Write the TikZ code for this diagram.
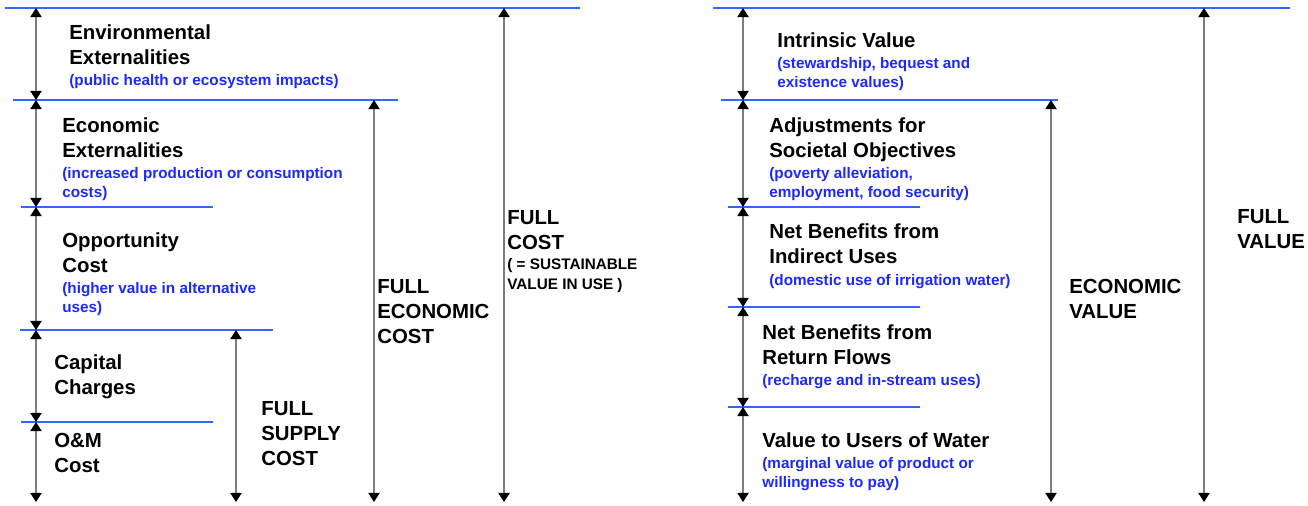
\documentclass[tikz,border=0pt]{standalone}
\usepackage{fontspec}
\setmainfont{Liberation Sans}
\usetikzlibrary{arrows.meta,positioning}
\definecolor{levelblue}{RGB}{51,102,255}
\definecolor{noteblue}{RGB}{28,40,255}
\definecolor{shaftgray}{RGB}{125,125,125}
\tikzset
{
    level/.style = {draw=levelblue, line width=1.4pt},
    span/.style  = {draw=shaftgray, line width=0.9pt, {Triangle[color=black,width=6.4pt,length=5.2pt]}-{Triangle[color=black,width=6.4pt,length=5.2pt]}},
    title/.style = {anchor=base west, align=left, inner sep=0pt, font=\fontsize{11.6}{14}\selectfont\bfseries},
    note/.style  = {anchor=base west, align=left, inner sep=0pt, text=noteblue, font=\fontsize{8.7}{10.8}\selectfont\bfseries},
    aside/.style = {anchor=base west, align=left, inner sep=0pt, font=\fontsize{8.7}{11.2}\selectfont\bfseries}
}
\newcommand\XL{36}
\newcommand\XR{743}

\begin{document}
\begin{tikzpicture}[x=0.02cm, y=-0.02cm]
\useasboundingbox (0,0) rectangle (1308,505);

%% levels, cost side
\coordinate (a0) at (\XL,8);
\coordinate (a1) at (\XL,100);
\coordinate (a2) at (\XL,207);
\coordinate (a3) at (\XL,330);
\coordinate (a4) at (\XL,422);
\coordinate (a5) at (\XL,502);
\coordinate (sup0)  at (236,330);
\coordinate (sup1)  at (236,502);
\coordinate (eco0)  at (374,100);
\coordinate (eco1)  at (374,502);
\coordinate (full0) at (504,8);
\coordinate (full1) at (504,502);

\draw[level] (5,8)    -- (580,8);
\draw[level] (13,100) -- (398,100);
\draw[level] (21,207) -- (213,207);
\draw[level] (20,330) -- (273,330);
\draw[level] (21,422) -- (213,422);

%% levels, value side
\coordinate (b0) at (\XR,8);
\coordinate (b1) at (\XR,100);
\coordinate (b2) at (\XR,207);
\coordinate (b3) at (\XR,307);
\coordinate (b4) at (\XR,407);
\coordinate (b5) at (\XR,502);
\coordinate (ev0) at (1051,100);
\coordinate (ev1) at (1051,502);
\coordinate (fv0) at (1204,8);
\coordinate (fv1) at (1204,502);

\draw[level] (713,8)   -- (1290,8);
\draw[level] (721,100) -- (1058,100);
\draw[level] (728,207) -- (920,207);
\draw[level] (728,307) -- (920,307);
\draw[level] (728,407) -- (920,407);

\path
(a0) edge[span] (a1)
(a1) edge[span] (a2)
(a2) edge[span] (a3)
(a3) edge[span] (a4)
(a4) edge[span] (a5)
(sup0) edge[span] (sup1)
(eco0) edge[span] (eco1)
(full0) edge[span] (full1)
(b0) edge[span] (b1)
(b1) edge[span] (b2)
(b2) edge[span] (b3)
(b3) edge[span] (b4)
(b4) edge[span] (b5)
(ev0) edge[span] (ev1)
(fv0) edge[span] (fv1);

%% cost components (placed at the baseline of the last line)
\node (envT)  [title] at (69,64)  {Environmental\\Externalities};
\node (envN)  [note]  at (69,85)  {(public health or ecosystem impacts)};
\node (ecxT)  [title] at (62,157) {Economic\\Externalities};
\node (ecxN)  [note]  at (62,197) {(increased production or consumption\\costs)};
\node (oppT)  [title] at (62,272) {Opportunity\\Cost};
\node (oppN)  [note]  at (62,312) {(higher value in alternative\\uses)};
\node (capT)  [title] at (54,394) {Capital\\Charges};
\node (omT)   [title] at (54,472) {O\&M\\Cost};
\node (supL)  [title] at (261,465) {FULL\\SUPPLY\\COST};
\node (ecoL)  [title] at (377,343) {FULL\\ECONOMIC\\COST};
\node (fullL) [title] at (507,249) {FULL\\COST};
\node (fullN) [aside] at (507,289) {( = SUSTAINABLE\\VALUE IN USE )};

%% value components
\node (intT)  [title] at (777,47)  {Intrinsic Value};
\node (intN)  [note]  at (777,87)  {(stewardship, bequest and\\existence values)};
\node (adjT)  [title] at (769,157) {Adjustments for\\Societal Objectives};
\node (adjN)  [note]  at (769,197) {(poverty alleviation,\\employment, food security)};
\node (indT)  [title] at (769,263) {Net Benefits from\\Indirect Uses};
\node (indN)  [note]  at (769,285) {(domestic use of irrigation water)};
\node (retT)  [title] at (762,364) {Net Benefits from\\Return Flows};
\node (retN)  [note]  at (762,385) {(recharge and in-stream uses)};
\node (useT)  [title] at (762,447) {Value to Users of Water};
\node (useN)  [note]  at (762,487) {(marginal value of product or\\willingness to pay)};
\node (evL)   [title] at (1069,318) {ECONOMIC\\VALUE};
\node (fvL)   [title] at (1237,248) {FULL\\VALUE};
\end{tikzpicture}
\end{document}
